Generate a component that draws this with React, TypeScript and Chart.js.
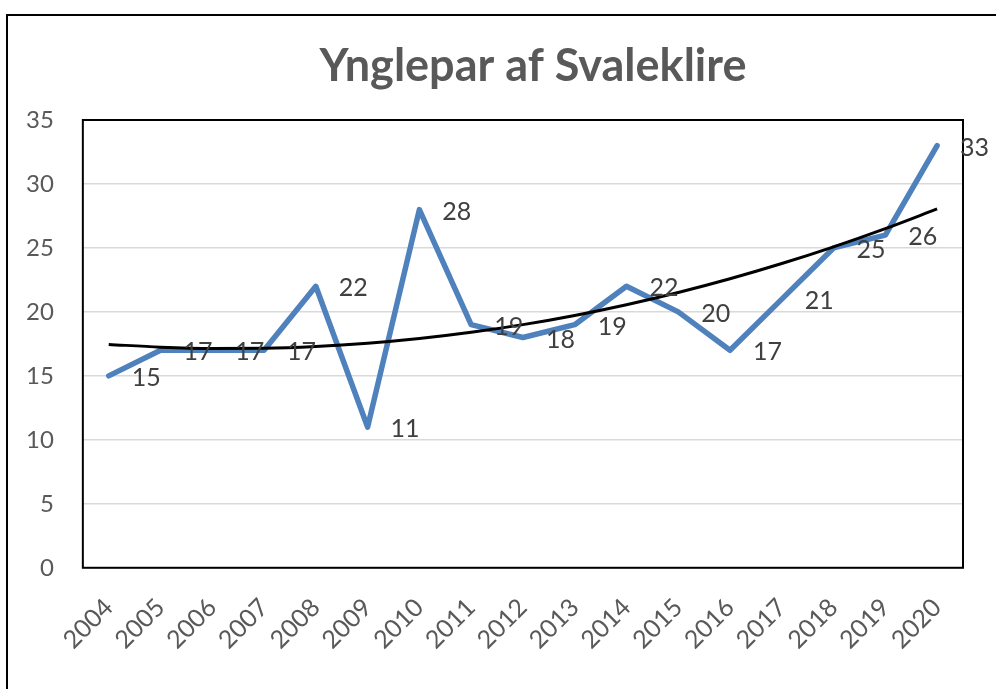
import React, { useEffect, useRef } from "react";
import { Chart, registerables } from "chart.js";

Chart.register(...registerables);

const years = ["2004","2005","2006","2007","2008","2009","2010","2011","2012","2013","2014","2015","2016","2017","2018","2019","2020"];
const pairs = [15,17,17,17,22,11,28,19,18,19,22,20,17,21,25,26,33];
const yTicks = [0,5,10,15,20,25,30,35];
const titleText = "Ynglepar af Svaleklire";

// Excel-style polynomial (order 2) trendline fitted to the data
function quadFit(ys: number[]): number[] {
  const n = ys.length;
  let s0 = 0, s1 = 0, s2 = 0, s3 = 0, s4 = 0, t0 = 0, t1 = 0, t2 = 0;
  for (let i = 0; i < n; i++) {
    const x = i + 1, y = ys[i];
    s0 += 1; s1 += x; s2 += x * x; s3 += x ** 3; s4 += x ** 4;
    t0 += y; t1 += x * y; t2 += x * x * y;
  }
  const M = [[s0, s1, s2, t0], [s1, s2, s3, t1], [s2, s3, s4, t2]];
  for (let c = 0; c < 3; c++) {
    for (let r = c + 1; r < 3; r++) {
      const f = M[r][c] / M[c][c];
      for (let k = c; k < 4; k++) M[r][k] -= f * M[c][k];
    }
  }
  const b = [0, 0, 0];
  for (let r = 2; r >= 0; r--) {
    let s = M[r][3];
    for (let k = r + 1; k < 3; k++) s -= M[r][k] * b[k];
    b[r] = s / M[r][r];
  }
  return ys.map((_, i) => b[0] + b[1] * (i + 1) + b[2] * (i + 1) ** 2);
}

const framePlugin = {
  id: "frame",
  afterLayout(chart: any) {
    const tb = chart.titleBlock;
    if (tb) {
      const w = tb.right - tb.left;
      tb.left = 533 - w / 2;
      tb.right = tb.left + w;
    }
  },
  beforeDraw(chart: any) {
    const ctx = chart.ctx;
    ctx.save();
    ctx.fillStyle = "#ffffff";
    ctx.fillRect(0, 0, chart.width, chart.height);
    ctx.strokeStyle = "#000000";
    ctx.lineWidth = 2;
    ctx.beginPath();
    ctx.moveTo(7, chart.height + 2);
    ctx.lineTo(7, 15);
    ctx.lineTo(chart.width + 2, 15);
    ctx.stroke();
    ctx.restore();
  },
  afterDatasetsDraw(chart: any) {
    const ctx = chart.ctx;
    const a = chart.chartArea;
    ctx.save();
    ctx.strokeStyle = "#000000";
    ctx.lineWidth = 2;
    ctx.strokeRect(a.left, a.top, a.right - a.left, a.bottom - a.top);
    const meta = chart.getDatasetMeta(0);
    ctx.fillStyle = "#404040";
    ctx.font = "25px Lato";
    ctx.textAlign = "left";
    ctx.textBaseline = "middle";
    meta.data.forEach((pt: any, i: number) => {
      ctx.fillText(String(pairs[i]), pt.x + 23, pt.y + 2);
    });
    ctx.restore();
  },
};

export default function App() {
  const ref = useRef<HTMLCanvasElement>(null);
  useEffect(() => {
    if (!ref.current) return;
    const trend = quadFit(pairs);
    const chart = new Chart(ref.current, {
      type: "line",
      data: {
        labels: years,
        datasets: [
          {
            label: "Ynglepar",
            data: pairs,
            borderColor: "#4F81BD",
            borderWidth: 5.5,
            pointRadius: 0,
            tension: 0,
            borderJoinStyle: "round",
            borderCapStyle: "round",
            order: 2,
          },
          {
            label: "Tendens",
            data: trend,
            borderColor: "#000000",
            borderWidth: 3,
            pointRadius: 0,
            tension: 0.4,
            cubicInterpolationMode: "monotone",
            order: 1,
          },
        ],
      },
      options: {
        animation: false,
        responsive: false,
        devicePixelRatio: 1,
        layout: { padding: { left: -3, right: 33, top: 0, bottom: 9 } },
        plugins: {
          legend: { display: false },
          tooltip: { enabled: false },
          title: {
            display: true,
            text: titleText,
            color: "#595959",
            font: { family: "Lato", size: 45, weight: "bold" },
            padding: { top: 39, bottom: 27 },
          },
        },
        scales: {
          x: {
            type: "category",
            offset: true,
            grid: { display: false, drawTicks: false },
            border: { display: false },
            afterFit(axis: any) {
              axis.paddingLeft = 0;
              axis.paddingRight = 0;
            },
            ticks: {
              color: "#595959",
              font: { family: "Lato", size: 25 },
              minRotation: 45,
              maxRotation: 45,
              padding: 25,
              autoSkip: false,
            },
          },
          y: {
            min: 0,
            max: 35,
            afterBuildTicks(axis: any) {
              axis.ticks = yTicks.map((v) => ({ value: v }));
            },
            grid: { color: "#d9d9d9", lineWidth: 1.5, drawTicks: false },
            border: { display: false },
            ticks: {
              color: "#595959",
              font: { family: "Lato", size: 24 },
              padding: 29,
            },
          },
        },
      },
      plugins: [framePlugin],
    });
    return () => chart.destroy();
  }, []);
  return (
    <div style={{ position: "fixed", left: 0, top: 0, width: 996, height: 689 }}>
      <canvas ref={ref} width={996} height={689} />
    </div>
  );
}
